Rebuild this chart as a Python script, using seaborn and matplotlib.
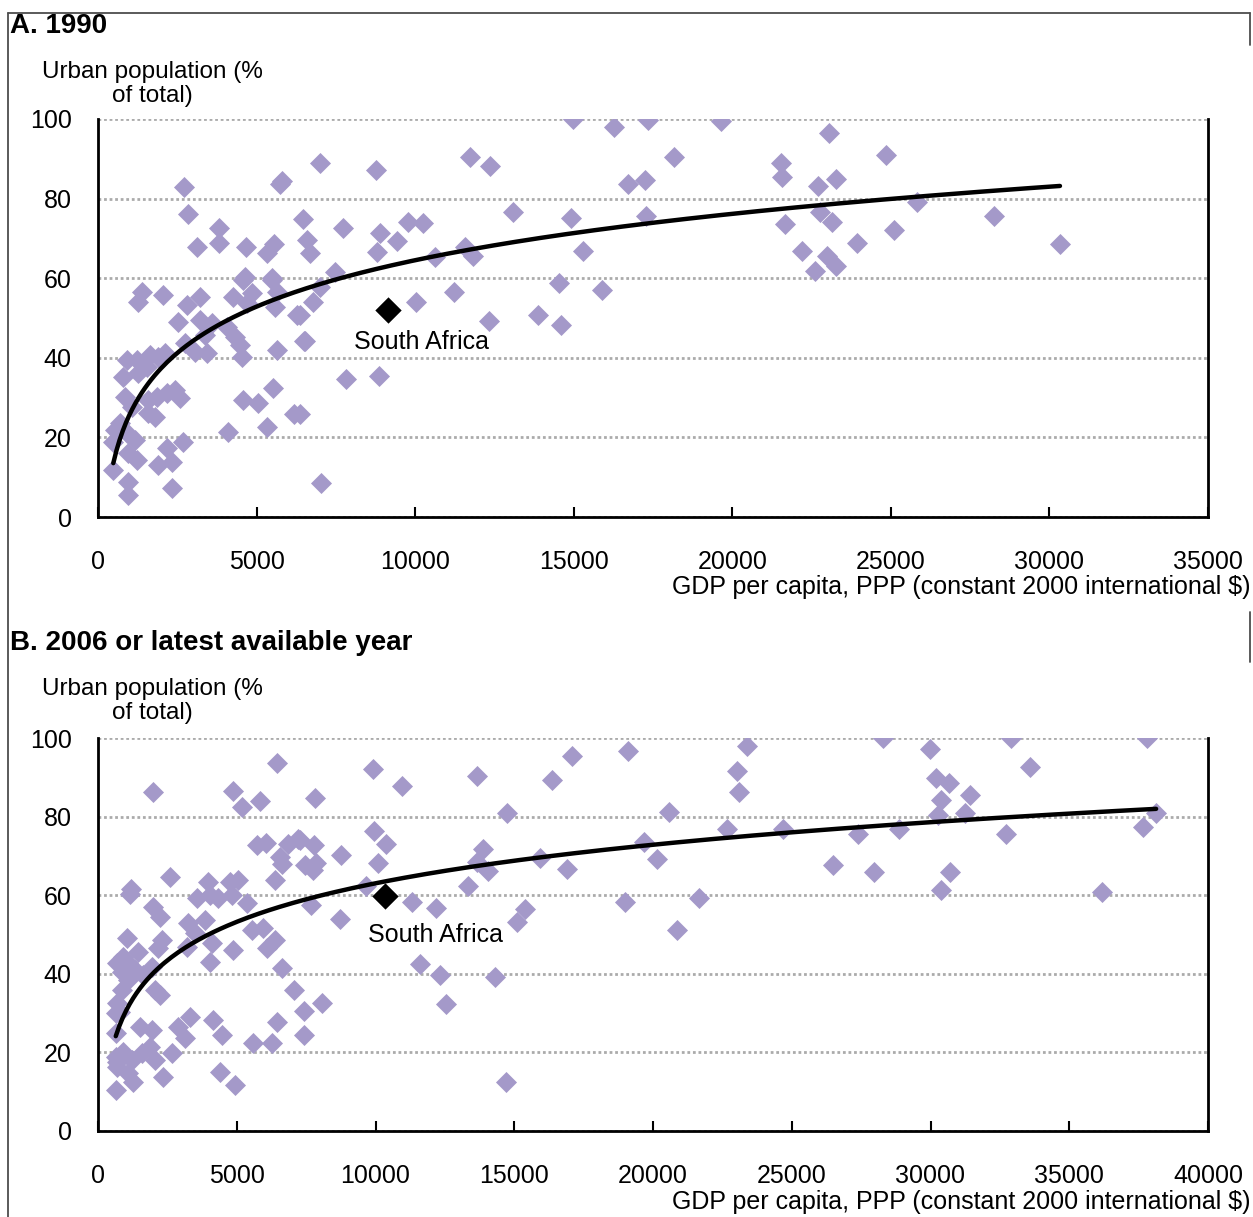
import numpy as np
import pandas as pd
import matplotlib
matplotlib.use("Agg")
import matplotlib.pyplot as plt
from matplotlib.lines import Line2D
import seaborn as sns

# ---------------- Panel A: 1990 ----------------
gdp_1990 = [
    2721, 2847, 3815, 3815, 3112, 4666, 5559, 5319, 5738, 7000, 6473, 6580, 6684, 7734,
    8765, 8891, 8787, 9418, 9784, 10257, 7473, 4635, 5477, 11729, 12359, 13095, 10626,
    11571, 11814, 7000, 6789, 6369, 10027, 11225, 12338, 6527, 7820, 8860, 6369, 7022,
    13874, 1378, 1271, 2059, 2797, 3216, 2532, 3216, 3585, 3374, 2743, 3058, 3427, 4266,
    4581, 4688, 4846, 4058, 4320, 4477, 4531, 5477, 5634, 5581, 6265, 5634, 6505, 5527,
    4581, 5054, 5319, 6190, 4109, 2690, 2166, 1901, 2324, 2343, 904, 1219, 1640, 1901,
    2112, 798, 1271, 1535, 851, 1062, 1586, 1851, 1586, 2166, 2428, 2585, 694, 536, 482,
    904, 1167, 955, 1219, 482, 955, 955, 1797, 5800,
    14977, 16270, 17342, 19643, 18161, 16711, 17247, 23048, 21535, 21567, 23269, 22702,
    24846, 17278, 14914, 22765, 23143, 21661, 28251, 25823, 25098, 23931, 30332, 22197,
    22985, 22607, 23269, 15292, 15891, 14535, 14598,
]
urban_1990 = [
    83.0, 76.1, 72.6, 68.8, 67.8, 67.8, 68.6, 66.4, 83.7, 89.0, 74.8, 69.6, 66.3, 72.6,
    87.2, 71.3, 66.7, 69.4, 74.2, 73.8, 61.6, 60.4, 60.0, 90.5, 88.2, 76.7, 65.4,
    67.9, 65.7, 57.9, 54.1, 50.8, 54.0, 56.6, 49.3, 44.1, 34.6, 35.4, 25.9, 8.6,
    50.8, 56.6, 54.1, 55.8, 53.3, 55.4, 49.1, 49.5, 48.7, 45.7, 43.7, 41.5, 41.1, 55.4,
    59.6, 53.7, 56.2, 47.8, 45.3, 43.2, 40.3, 59.6, 56.6, 52.8, 50.8, 42.0, 44.1, 32.3,
    29.4, 28.6, 22.7, 25.9, 21.4, 18.9, 17.3, 13.1, 13.9, 7.2, 39.5, 39.5, 40.7, 40.3,
    41.1, 35.3, 36.2, 37.8, 30.2, 27.7, 29.4, 30.2, 26.1, 31.1, 31.9, 29.8, 23.5, 21.9, 18.9,
    21.0, 19.4, 16.0, 14.3, 11.8, 8.9, 5.5, 25.2, 84.3,
    100.0, 98.0, 99.8, 99.5, 90.5, 83.7, 84.7, 96.5, 89.0, 85.4, 84.9, 83.2,
    91.0, 75.6, 75.1, 76.6, 74.1, 73.6, 75.6, 79.2, 72.1, 68.9, 68.6, 66.8,
    65.6, 61.8, 63.1, 66.8, 57.0, 58.8, 48.3,
]
sa_1990 = (9134, 52.0)

# ---------------- Panel B: 2006 or latest ----------------
gdp_2006 = [
    1982, 4865, 5190, 5838, 6451, 7821, 9911, 10956, 13659, 14740, 9947, 10369, 10091,
    8758, 7785, 7280, 7857, 7749, 7460, 5730, 6055, 6848, 7208, 6559, 6631, 2595, 3964,
    4757, 5046, 6379, 1189, 9659, 7677, 8722, 11317, 12182, 13335, 13875, 13659, 14056,
    15389, 15101, 11605, 12326, 14308, 12542, 14704, 8073, 7424, 7424, 7064,
    1153, 1982, 2234, 1045, 1442, 2307, 2162, 3244, 3568, 4036, 4325, 4829, 5370, 3856,
    3496, 3208, 4109, 4865, 4036, 5550, 5947, 6379, 6091, 6631, 6451, 6271, 5586, 4469,
    4145, 3316, 2883, 3135, 2667, 1946, 1514, 1874, 2054, 1586, 1225, 901, 685, 1081,
    1261, 2343, 640, 4397, 4937, 660, 700, 685, 650, 865, 1081, 1333, 1622, 1946, 2234,
    2054, 865, 793, 1081, 901, 640, 700,
    19101, 17083, 16362, 23390, 20579, 23030, 23102, 22669, 24687, 19678, 20146, 15930,
    16903, 18993, 21660, 20867, 28291, 29985, 30202, 30670, 30382, 31427, 30274, 31247,
    32905, 33589, 32724, 27390, 28868, 27967, 26489, 30382, 30706, 36184, 37806, 37662,
    38130,
]
urban_2006 = [
    86.3, 86.5, 82.5, 84.0, 93.7, 84.7, 92.1, 87.8, 90.3, 80.9, 76.4, 73.0, 68.2,
    70.2, 72.8, 74.1, 68.2, 66.4, 67.7, 72.8, 73.3, 73.0, 74.3, 69.7, 68.0, 64.6, 63.4,
    63.4, 63.9, 63.9, 61.6, 62.4, 57.5, 54.0, 58.3, 56.8, 62.4, 71.8, 68.5, 66.2,
    56.5, 53.2, 42.5, 39.7, 39.2, 32.3, 12.5, 32.6, 30.5, 24.4, 35.9,
    60.3, 57.0, 54.5, 49.1, 45.6, 48.6, 46.6, 52.9, 59.3, 60.1, 59.3, 60.1, 58.0, 53.7,
    50.4, 46.8, 47.8, 46.1, 43.0, 51.2, 51.7, 48.6, 46.6, 41.5, 27.7, 22.4, 22.4, 24.4,
    28.2, 29.0, 26.5, 23.7, 19.9, 25.7, 26.5, 21.4, 18.1, 19.9, 18.1, 20.1, 17.6, 14.8,
    12.5, 13.7, 10.4, 15.0, 11.7, 24.9, 42.8, 32.6, 30.0, 40.5, 38.4, 41.0, 39.7, 41.7, 34.6,
    35.9, 35.9, 30.3, 42.8, 44.3, 18.8, 16.3,
    96.7, 95.4, 89.3, 98.0, 81.2, 91.6, 86.3, 76.9, 76.9, 73.6, 69.2, 69.5,
    66.7, 58.3, 59.3, 51.2, 100.0, 97.2, 89.8, 88.6, 84.2, 85.5, 80.4, 80.9,
    100.0, 92.6, 75.6, 75.6, 76.9, 65.9, 67.7, 61.3, 65.9, 60.8, 100.0, 77.4,
    80.9,
]
sa_2006 = (10343, 59.8)

panels = [
    dict(title="A. 1990", gdp=gdp_1990, urban=urban_1990, sa=sa_1990, xmax=35000,
         xticks=list(range(0, 35001, 5000)), sa_off=(24, -23)),
    dict(title="B. 2006 or latest available year", gdp=gdp_2006, urban=urban_2006, sa=sa_2006,
         xmax=40000, xticks=list(range(0, 40001, 5000)), sa_off=(36, -28)),
]
y_ticks = [0, 20, 40, 60, 80, 100]
y_label = "Urban population (%\nof total)"
x_label = "GDP per capita, PPP (constant 2000 international $)"

sns.set_theme(style="white")
plt.rcParams["font.family"] = ["Liberation Sans", "DejaVu Sans"]

W, H = 1253, 1217
fig = plt.figure(figsize=(W / 100, H / 100), dpi=100)

point_color = "#A499C9"
grid_color = "#ABABAB"

# axes boxes in pixel coordinates (left, top, right, bottom)
boxes = [(98, 119, 1208, 517), (98, 738, 1208, 1131)]
title_y = [26, 643]
ylab_y = [84, 701]
xlab_y = [587, 1202]

for p, box, ty, yly, xly in zip(panels, boxes, title_y, ylab_y, xlab_y):
    l, t, r, b = box
    ax = fig.add_axes([l / W, 1 - b / H, (r - l) / W, (b - t) / H])
    df = pd.DataFrame({"gdp": p["gdp"], "urban": p["urban"]})
    sns.scatterplot(data=df, x="gdp", y="urban", ax=ax, marker="D", s=115,
                    color=point_color, linewidth=0, zorder=3)

    # logarithmic trend line fitted on the data (incl. South Africa)
    xs_all = np.array(p["gdp"] + [p["sa"][0]], dtype=float)
    ys_all = np.array(p["urban"] + [p["sa"][1]], dtype=float)
    slope, icpt = np.polyfit(np.log(xs_all), ys_all, 1)
    xf = np.linspace(xs_all.min(), xs_all.max(), 300)
    fit = pd.DataFrame({"gdp": xf, "urban": icpt + slope * np.log(xf)})
    sns.lineplot(data=fit, x="gdp", y="urban", ax=ax, color="black", linewidth=3.2, zorder=4)

    sa = pd.DataFrame({"gdp": [p["sa"][0]], "urban": [p["sa"][1]]})
    sns.scatterplot(data=sa, x="gdp", y="urban", ax=ax, marker="D", s=180,
                    color="black", linewidth=0, zorder=5)
    ax.annotate("South Africa", xy=p["sa"], xytext=p["sa_off"], textcoords="offset points",
                ha="center", va="center", fontsize=18, color="black")

    ax.set_xlim(0, p["xmax"])
    ax.set_ylim(0, 100)
    ax.set_xticks(p["xticks"])
    ax.set_yticks(y_ticks)
    ax.set_xlabel("")
    ax.set_ylabel("")
    ax.tick_params(axis="x", direction="in", length=7, width=1.5, color="black",
                   pad=24, labelsize=18, bottom=True)
    ax.tick_params(axis="y", length=0, pad=19, labelsize=18)
    for lab in ax.get_xticklabels() + ax.get_yticklabels():
        lab.set_color("black")
    ax.yaxis.grid(True, color=grid_color, linestyle=(0, (1, 1)), linewidth=2.0)
    ax.xaxis.grid(False)
    for side in ["left", "bottom", "right"]:
        ax.spines[side].set_visible(True)
        ax.spines[side].set_color("black")
        ax.spines[side].set_linewidth(2.0)
    ax.spines["top"].set_visible(False)
    ax.set_axisbelow(True)

    fig.text(10 / W, 1 - ty / H, p["title"], ha="left", va="center",
             fontsize=20, fontweight="bold", color="black")
    fig.text(152 / W, 1 - yly / H, y_label, ha="center", va="center",
             fontsize=17.5, color="black", multialignment="center", linespacing=1.15)
    fig.text(1250 / W, 1 - xly / H, x_label, ha="right", va="center",
             fontsize=18, color="black")

# outer frame fragments
frame_kw = dict(color="#4d4d4d", linewidth=1.3, transform=fig.transFigure)
fig.add_artist(Line2D([8 / W, 1250 / W], [1 - 13 / H, 1 - 13 / H], **frame_kw))
fig.add_artist(Line2D([8 / W, 8 / W], [1 - 13 / H, 0], **frame_kw))
fig.add_artist(Line2D([1250 / W, 1250 / W], [1 - 13 / H, 1 - 45 / H], **frame_kw))
fig.add_artist(Line2D([1250 / W, 1250 / W], [1 - 612 / H, 1 - 662 / H], **frame_kw))

fig.savefig("out.png", dpi=100, facecolor="white")
